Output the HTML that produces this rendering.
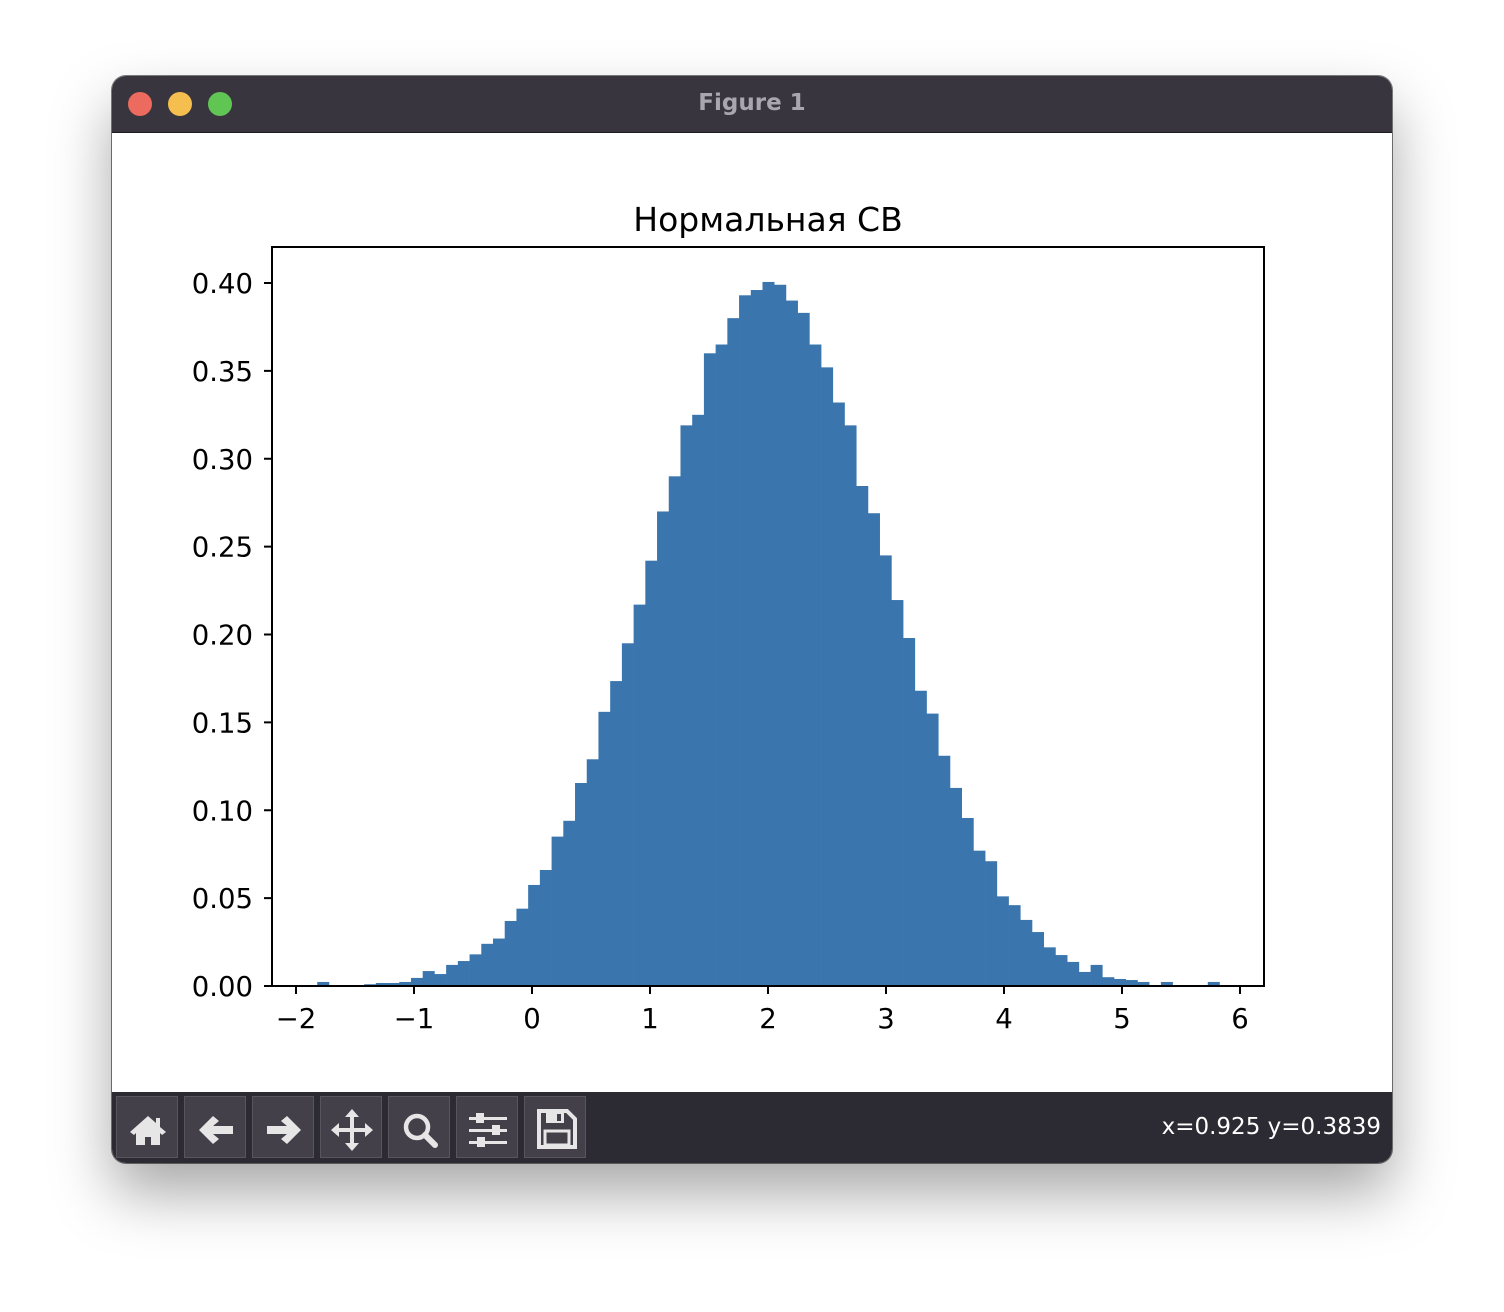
<!DOCTYPE html>
<html><head><meta charset="utf-8">
<style>
html,body{margin:0;padding:0;background:#fff;}
body{width:1504px;height:1312px;position:relative;overflow:hidden;font-family:"Liberation Sans","DejaVu Sans",sans-serif;}
#win{position:absolute;left:112px;top:76px;width:1280px;height:1087px;border-radius:14px;overflow:hidden;background:#fff;
box-shadow:0 30px 60px rgba(0,0,0,0.35),0 0 0 1px rgba(0,0,0,0.5);}
#titlebar{position:absolute;left:0;top:0;width:1280px;height:56px;background:#38353e;border-bottom:1px solid #1e1c22;}
.dot{position:absolute;top:16px;width:24px;height:24px;border-radius:50%;}
#title{position:absolute;left:0;width:1280px;top:14px;text-align:center;color:#a9a7ad;font-weight:bold;font-size:23px;font-family:"DejaVu Sans","Liberation Sans",sans-serif;}
#toolbar{position:absolute;left:0;top:1016px;width:1280px;height:71px;background:#2c2a32;}
.btn{position:absolute;top:4px;width:62px;height:62px;background:#434049;border:1px solid #58555e;box-sizing:border-box;}
.btn svg{position:absolute;left:0;top:0;}
#coords{position:absolute;right:11px;top:22px;color:#fff;font-size:23px;font-family:"DejaVu Sans","Liberation Sans",sans-serif;}
</style></head><body>
<div id="win">
  <div id="titlebar">
    <div class="dot" style="left:16px;background:#ec6a5e"></div>
    <div class="dot" style="left:56px;background:#f4bf4f"></div>
    <div class="dot" style="left:96px;background:#61c554"></div>
    <div id="title">Figure 1</div>
  </div>
  <svg id="chart" width="1280" height="959" style="position:absolute;left:0;top:57px"></svg>
  <div id="toolbar">
    <div class="btn" style="left:4px"><svg width="62" height="62"><path d="M31 19 L13 35 L17 38 L19 36 L19 48 L28 48 L28 40 L34 40 L34 48 L43 48 L43 36 L45 38 L49 35 L43 30 L43 21 L39 21 L39 26 Z" fill="#e6e6e6"/></svg></div>
    <div class="btn" style="left:72px"><svg width="62" height="62"><path d="M14 33 L28 19 L34 24 L28 29 L48 29 L48 37 L28 37 L34 42 L28 47 Z" fill="#e6e6e6"/></svg></div>
    <div class="btn" style="left:140px"><svg width="62" height="62"><path d="M48 33 L34 19 L28 24 L34 29 L14 29 L14 37 L34 37 L28 42 L34 47 Z" fill="#e6e6e6"/></svg></div>
    <div class="btn" style="left:208px"><svg width="62" height="62"><path d="M31 12 L38 20 L33 20 L33 31 L44 31 L44 26 L52 33 L44 40 L44 35 L33 35 L33 46 L38 46 L31 54 L24 46 L29 46 L29 35 L18 35 L18 40 L10 33 L18 26 L18 31 L29 31 L29 20 L24 20 Z" fill="#e6e6e6"/></svg></div>
    <div class="btn" style="left:276px"><svg width="62" height="62"><circle cx="28" cy="30" r="11" fill="none" stroke="#e6e6e6" stroke-width="4.5"/><line x1="36" y1="38" x2="46" y2="48" stroke="#e6e6e6" stroke-width="6" stroke-linecap="round"/></svg></div>
    <div class="btn" style="left:344px"><svg width="62" height="62" fill="#e6e6e6"><rect x="12" y="20" width="38" height="3"/><rect x="12" y="32" width="38" height="3"/><rect x="12" y="44" width="38" height="3"/><rect x="19" y="16" width="8" height="10"/><rect x="35" y="28" width="8" height="10"/><rect x="20" y="40" width="8" height="10"/></svg></div>
    <div class="btn" style="left:412px"><svg width="62" height="62"><path d="M14 14 L42 14 L50 22 L50 50 L14 50 Z" fill="none" stroke="#e6e6e6" stroke-width="4"/><rect x="21" y="15" width="18" height="11" fill="#e6e6e6"/><rect x="32" y="17" width="4" height="7" fill="#434049"/><rect x="20" y="34" width="24" height="14" fill="none" stroke="#e6e6e6" stroke-width="3"/></svg></div>
    <div id="coords">x=0.925 y=0.3839</div>
  </div>
</div>
<script>
const binStart = -1.82;
const binWidth = 0.0993;
const densities = [0.0023,0,0,0,0.001,0.0017,0.0017,0.0023,0.0046,0.0085,
0.0068,0.012,0.0142,0.018,0.024,0.027,0.037,0.044,0.0575,0.066,
0.085,0.094,0.1155,0.129,0.156,0.1735,0.195,0.217,0.242,0.270,
0.290,0.319,0.325,0.360,0.365,0.380,0.393,0.396,0.4006,0.399,
0.390,0.383,0.365,0.352,0.332,0.319,0.2845,0.269,0.245,0.2196,
0.198,0.168,0.155,0.131,0.1127,0.0956,0.077,0.071,0.051,0.046,
0.0376,0.0307,0.022,0.0176,0.0137,0.008,0.012,0.005,0.004,0.0034,
0.0023,0,0.0023,0,0,0,0.0023];
const xTicks = [-2,-1,0,1,2,3,4,5,6];
const xTickLabels = ["\u22122","\u22121","0","1","2","3","4","5","6"];
const yTicks = [0,0.05,0.10,0.15,0.20,0.25,0.30,0.35,0.40];
const yTickLabels = ["0.00","0.05","0.10","0.15","0.20","0.25","0.30","0.35","0.40"];

const NS="http://www.w3.org/2000/svg";
const svg=document.getElementById('chart');
const ox=112, oy=133;
const L=272-ox, R=1264-ox, T=247-oy, B=986-oy;
function xs(v){return (296-ox)+(v+2)*118;}
function ys(v){return B - v*1757.5;}
function mk(tag,attrs){const e=document.createElementNS(NS,tag);for(const k in attrs)e.setAttribute(k,attrs[k]);svg.appendChild(e);return e;}
const FF='"DejaVu Sans","Liberation Sans",sans-serif';

const title=mk('text',{x:(L+R)/2,y:T-16,'text-anchor':'middle','font-size':'33','font-family':FF,fill:'#000'});
title.textContent='Нормальная СВ';



densities.forEach((d,i)=>{
  if(d<=0)return;
  const x0=xs(binStart+i*binWidth), x1=xs(binStart+(i+1)*binWidth);
  const r=mk('rect',{x:x0,y:ys(d),width:x1-x0+0.3,height:B-ys(d),fill:'#3a75ae'});
  
  
});

const frame=mk('rect',{x:L,y:T,width:R-L,height:B-T,fill:'none',stroke:'#000','stroke-width':2});



xTicks.forEach((v,i)=>{
  const x=xs(v);
  const t=mk('line',{x1:x,y1:B,x2:x,y2:B+8,stroke:'#000','stroke-width':2});
  
  
  const lb=mk('text',{x:x,y:B+42,'text-anchor':'middle','font-size':'27.5','font-family':FF,fill:'#000'});
  lb.textContent=xTickLabels[i];
  
  
});
yTicks.forEach((v,i)=>{
  const y=ys(v);
  const t=mk('line',{x1:L-8,y1:y,x2:L,y2:y,stroke:'#000','stroke-width':2});
  
  
  const lb=mk('text',{x:L-19,y:y+10,'text-anchor':'end','font-size':'27.5','font-family':FF,fill:'#000'});
  lb.textContent=yTickLabels[i];
  
  
});
</script>
</body></html>
